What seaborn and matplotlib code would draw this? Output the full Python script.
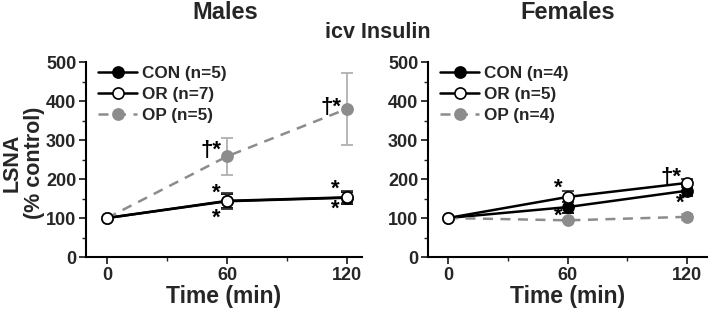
import numpy as np
import pandas as pd
import matplotlib
matplotlib.use("Agg")
import matplotlib.pyplot as plt
import seaborn as sns
from matplotlib.ticker import MultipleLocator

sns.set_theme(style="ticks")
plt.rcParams['font.family'] = ['Liberation Sans', 'DejaVu Sans']
plt.rcParams['font.weight'] = 'bold'

time_min = [0, 60, 120]

# Males
male_con = [100, 143, 152]
male_con_err = [0, 18, 15]
male_or = [100, 144, 153]
male_or_err = [0, 20, 15]
male_op = [100, 258, 380]
male_op_err = [0, 48, 93]

# Females
female_con = [100, 128, 170]
female_con_err = [0, 14, 14]
female_or = [100, 154, 190]
female_or_err = [0, 14, 11]
female_op = [100, 94, 103]
female_op_err = [0, 4, 7]

male_n = {'CON': 5, 'OR': 7, 'OP': 5}
female_n = {'CON': 4, 'OR': 5, 'OP': 4}

GRAY = '#8c8c8c'
ERR_GRAY = '#b0b0b0'

styles = {
    'CON': dict(color='black', mfc='black', mec='black', ls='-', ecolor='black'),
    'OR': dict(color='black', mfc='white', mec='black', ls='-', ecolor='#333333'),
    'OP': dict(color=GRAY, mfc=GRAY, mec=GRAY, ls=(0, (4, 3)), ecolor=ERR_GRAY),
}


def draw_panel(ax, series, n_counts):
    for group in ['CON', 'OP', 'OR']:
        vals, errs = series[group]
        st = styles[group]
        df = pd.DataFrame({'time': time_min, 'value': vals})
        ax.errorbar(time_min, vals, yerr=errs, fmt='none', ecolor=st['ecolor'],
                    elinewidth=1.3, capsize=4, capthick=1.3, zorder=2)
        sns.lineplot(data=df, x='time', y='value', ax=ax, color=st['color'],
                     linestyle=st['ls'], linewidth=1.8, marker='o', markersize=8,
                     markerfacecolor=st['mfc'], markeredgecolor=st['mec'],
                     markeredgewidth=1.2, label=f"{group} (n={n_counts[group]})",
                     zorder=3)
    ax.set_xlim(-10.5, 127.5)
    ax.set_ylim(0, 500)
    ax.set_xticks(time_min)
    ax.xaxis.set_minor_locator(MultipleLocator(30))
    ax.yaxis.set_minor_locator(MultipleLocator(50))
    ax.tick_params(axis='both', which='major', direction='out', length=5,
                   width=1.3, labelsize=13, pad=2)
    ax.tick_params(axis='both', which='minor', direction='out', length=3, width=1)
    for lbl in ax.get_xticklabels() + ax.get_yticklabels():
        lbl.set_fontweight('bold')
    sns.despine(ax=ax)
    for sp in ['left', 'bottom']:
        ax.spines[sp].set_linewidth(1.5)
        ax.spines[sp].set_color('black')
    ax.set_xlabel('Time (min)', fontsize=16.5, fontweight='bold', labelpad=1)
    ax.set_ylabel('')
    handles, labels = ax.get_legend_handles_labels()
    order = [labels.index(l) for l in [f"CON (n={n_counts['CON']})",
                                       f"OR (n={n_counts['OR']})",
                                       f"OP (n={n_counts['OP']})"]]
    ax.legend([handles[i] for i in order], [labels[i] for i in order],
              loc='upper left', bbox_to_anchor=(0.0, 1.04), frameon=False,
              handlelength=2.3, handletextpad=0.3, labelspacing=0.35,
              borderaxespad=0.3, prop={'weight': 'bold', 'size': 12.3})


fig = plt.figure(figsize=(7.09, 3.11), dpi=100)
ax1 = fig.add_axes([0.1213, 0.1736, 0.3893, 0.627])
ax2 = fig.add_axes([0.6037, 0.1736, 0.3935, 0.627])

draw_panel(ax1, {'CON': (male_con, male_con_err), 'OR': (male_or, male_or_err),
                 'OP': (male_op, male_op_err)}, male_n)
draw_panel(ax2, {'CON': (female_con, female_con_err), 'OR': (female_or, female_or_err),
                 'OP': (female_op, female_op_err)}, female_n)
ax2.set_xlim(-10, 130)

# y label as figure text so it can be centred exactly
fig.text(0.033, 0.476, 'LSNA\n(% control)', rotation=90, ha='center', va='center',
         fontsize=15.5, fontweight='bold', linespacing=1.05, multialignment='center')

fig.text(0.318, 0.96, 'Males', ha='center', va='center', fontsize=17, fontweight='bold')
fig.text(0.80, 0.96, 'Females', ha='center', va='center', fontsize=17, fontweight='bold')
fig.text(0.533, 0.897, 'icv Insulin', ha='center', va='center', fontsize=15.5, fontweight='bold')

star = dict(ha='center', va='center', fontsize=16, fontweight='bold', color='black')
# Males annotations
ax1.text(54.5, 163, '*', **star)
ax1.text(54.5, 100, '*', **star)
ax1.text(52, 272, '†*', **star)
ax1.text(114, 173, '*', **star)
ax1.text(114, 123, '*', **star)
ax1.text(112, 384, '†*', **star)
# Females annotations
ax2.text(55.5, 176, '*', **star)
ax2.text(55.5, 104, '*', **star)
ax2.text(112, 203, '†*', **star)
ax2.text(116.5, 139, '*', **star)

fig.savefig('out.png', dpi=100)
